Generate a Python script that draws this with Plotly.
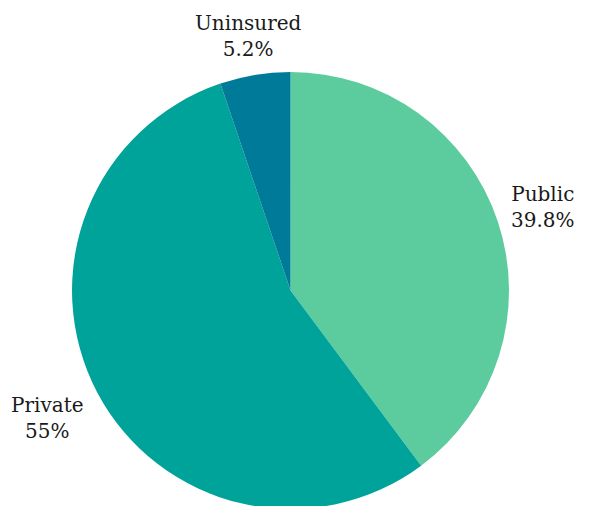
import math
import plotly.graph_objects as go

labels = ["Public", "Private", "Uninsured"]
values = [39.8, 55, 5.2]
value_text = ["39.8%", "55%", "5.2%"]
colors = ["#5ccc9e", "#00a39a", "#007a99"]

W, H = 589, 506
dom_x = [0.1087, 0.8506]
dom_y = [0.0099, 0.8735]
FONT_SIZE = 20

fig = go.Figure(go.Pie(
    labels=labels,
    values=values,
    sort=False,
    direction="clockwise",
    rotation=0,
    marker=dict(colors=colors, line=dict(width=0)),
    textinfo="none",
    hoverinfo="label+value",
    showlegend=False,
    domain=dict(x=dom_x, y=dom_y),
))

# Label positions derived from slice mid-angles, pushed out so the
# text box clears the rim by a constant gap
cx = (dom_x[0] + dom_x[1]) / 2 * W
cy = (dom_y[0] + dom_y[1]) / 2 * H  # from bottom
r = min((dom_x[1] - dom_x[0]) * W, (dom_y[1] - dom_y[0]) * H) / 2
total = sum(values)
cum = 0.0
for lab, v, vt in zip(labels, values, value_text):
    mid = (cum + v / 2) / total * 2 * math.pi
    cum += v
    s, c = math.sin(mid), math.cos(mid)
    half_w = max(len(lab), len(vt)) * 0.52 * FONT_SIZE / 2
    half_h = 1.2 * FONT_SIZE
    ext = min(half_w / max(abs(s), 1e-6), half_h / max(abs(c), 1e-6))
    R = r + 15 + ext
    px = cx + R * s
    py = cy + R * c
    fig.add_annotation(
        x=px / W, y=py / H, xref="paper", yref="paper",
        text=f"{lab}<br>{vt}", showarrow=False,
        xanchor="center", yanchor="middle",
        font=dict(family="DejaVu Serif", size=FONT_SIZE, color="#1a1a1a"),
    )

fig.update_layout(
    width=W, height=H,
    margin=dict(l=0, r=0, t=0, b=0),
    paper_bgcolor="white",
    plot_bgcolor="white",
)
fig.write_html("out.html")
